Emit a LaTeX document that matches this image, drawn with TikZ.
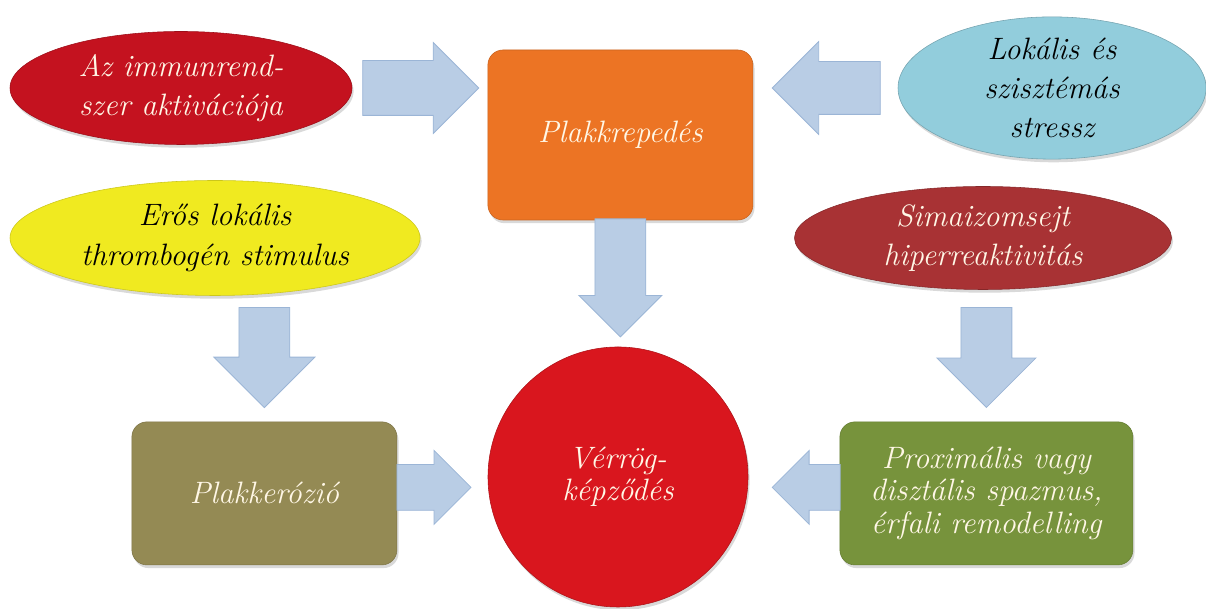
\documentclass[tikz,border=0pt]{standalone}
\usepackage[dvipsnames,svgnames,x11names]{xcolor}
\definecolor{ImmRed}    {HTML}{C4121F}
\definecolor{CrackOrng} {HTML}{EC7424}
\definecolor{StressBlue}{HTML}{92CDDC}
\definecolor{StimYellow}{HTML}{F0EA20}
\definecolor{MuscleRed} {HTML}{A83234}
\definecolor{ErosOlive} {HTML}{948A54}
\definecolor{SpasmGreen}{HTML}{77933C}
\definecolor{ClotRed}   {HTML}{D9161E}
\definecolor{ArrowFill} {HTML}{B9CDE5}
\definecolor{ArrowEdge} {HTML}{9BB5D6}
\definecolor{PaleText}  {HTML}{FFF7E6}
\usepackage{tikz}
\usetikzlibrary{arrows.meta,positioning,shapes.geometric,shapes.arrows,
  shadows,calc}

\begin{document}
\begin{tikzpicture}[
  oval/.style={ellipse,inner sep=0pt,align=center,
    font=\fontsize{22}{28}\selectfont\itshape,
    drop shadow={opacity=.3,shadow xshift=.4mm,shadow yshift=-.8mm}},
  card/.style={rectangle,rounded corners=.375cm,inner sep=0pt,align=center,
    font=\fontsize{22}{28}\selectfont\itshape,
    drop shadow={opacity=.3,shadow xshift=.4mm,shadow yshift=-.8mm}},
  fat/.style={single arrow,draw=ArrowEdge,fill=ArrowFill,line width=.6pt,
    inner xsep=0pt,sloped,allow upside down,single arrow tip angle=90}]
  \useasboundingbox (0,0) rectangle (30.15,15.225);

  % causes on top
  \node[oval,draw=ImmRed!80!black,fill=ImmRed,text=PaleText,
    minimum width=8.55cm,minimum height=2.825cm]
    (IA) at (4.525,13.025) {Az immunrend-\\szer aktivációja};
  \node[card,draw=CrackOrng!85!black,fill=CrackOrng,text=PaleText,
    minimum width=6.625cm,minimum height=4.25cm]
    (PR) at (15.51,11.85) {Plakkrepedés};
  \node[oval,draw=StressBlue!80!black,fill=StressBlue,text=black,
    minimum width=7.7cm,minimum height=2.825cm]
    (LS) at (26.3,13.025) {Lokális és\\szisztémás\\stressz};
  \node[oval,draw=StimYellow!85!black,fill=StimYellow,text=black,
    minimum width=10.25cm,minimum height=2.875cm]
    (ES) at (5.375,9.275) {Erős lokális\\thrombogén stimulus};
  \node[oval,draw=MuscleRed!80!black,fill=MuscleRed,text=PaleText,
    minimum width=9.425cm,minimum height=2.575cm]
    (SH) at (24.575,9.275) {Simaizomsejt\\hiperreaktivitás};

  % bottom row
  \node[card,draw=ErosOlive!85!black,fill=ErosOlive,text=PaleText,
    minimum width=6.625cm,minimum height=3.575cm]
    (PE) at (6.61,2.89) {Plakkerózió};
  \node[circle,draw=ClotRed!80!black,fill=ClotRed,text=PaleText,
    inner sep=0pt,minimum size=6.5cm,align=center,
    font=\fontsize{22}{23}\selectfont\itshape,
    drop shadow={opacity=.3,shadow xshift=.4mm,shadow yshift=-.8mm}]
    (VK) at (15.45,3.3) {Vérrög-\\képződés};
  \node[card,draw=SpasmGreen!85!black,fill=SpasmGreen,text=PaleText,
    minimum width=7.325cm,minimum height=3.575cm,
    font=\fontsize{22}{23}\selectfont\itshape]
    (PS) at (24.66,2.89)
    {Proximális vagy\\disztális spazmus,\\érfali remodelling};

  \path (IA.east) -- node[fat,pos=.404,minimum height=2.9cm,
    inner ysep=.675cm,single arrow head extend=.45cm]{} (IA.east -| PR.west);
  \path (LS.west) -- node[fat,pos=.403,minimum height=2.7cm,
    inner ysep=.65cm,single arrow head extend=.5cm]{} (LS.west -| PR.east);
  \path (PR.south) -- node[fat,pos=.355,minimum height=2.95cm,
    inner ysep=.625cm,single arrow head extend=.4cm]{} (PR.south |- VK.north);
  \path (PE.north |- ES.south) -- node[fat,pos=.39,minimum height=2.5cm,
    inner ysep=.625cm,single arrow head extend=.625cm]{} (PE.north);
  \path (PS.north |- SH.south) -- node[fat,pos=.417,minimum height=2.5cm,
    inner ysep=.625cm,single arrow head extend=.6cm]{} (PS.north);
  \path ([yshift=.15cm]PE.east) -- node[fat,pos=.28,minimum height=1.85cm,
    inner ysep=.5625cm,single arrow head extend=.35cm]{}
    ([yshift=.15cm]PE.east -| VK.west);
  \path ([yshift=.15cm]PS.west) -- node[fat,pos=.24,minimum height=1.7cm,
    inner ysep=.5625cm,single arrow head extend=.35cm]{}
    ([yshift=.15cm]PS.west -| VK.east);
\end{tikzpicture}
\end{document}
